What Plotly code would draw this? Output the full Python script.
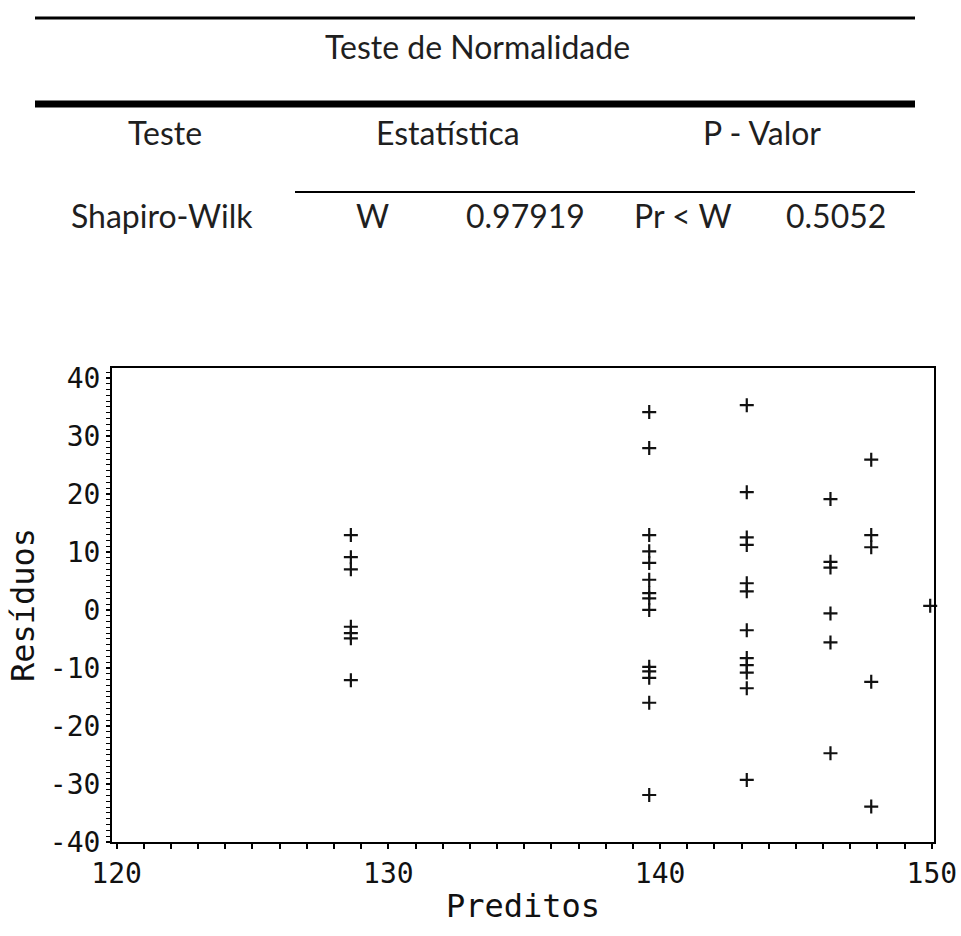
import plotly.graph_objects as go

# ---------------- data ----------------
pred_values = [128.62, 139.6, 143.19, 146.27, 147.77, 149.94]
residuals_g1 = [12.9, 9.1, 7.0, -2.9, -4.0, -4.9, -12.1]
residuals_g2 = [34.1, 27.9, 12.9, 10.1, 8.1, 5.2, 2.9, 2.0, 0.0, -9.8, -10.6, -11.7, -16.0, -31.9]
residuals_g3 = [35.3, 20.3, 12.5, 11.2, 4.6, 3.2, -3.5, -8.3, -9.5, -10.8, -13.5, -29.3]
residuals_g4 = [19.1, 8.3, 7.3, -0.6, -5.6, -24.7]
residuals_g5 = [25.9, 12.9, 10.8, -12.4, -33.9]
residuals_g6 = [0.7]
groups = [residuals_g1, residuals_g2, residuals_g3, residuals_g4, residuals_g5, residuals_g6]

x_ticks = [120, 130, 140, 150]
y_ticks = [-40, -30, -20, -10, 0, 10, 20, 30, 40]

table_title = "Teste de Normalidade"
table_header = ["Teste", "Estatística", "P - Valor"]
table_row = ["Shapiro-Wilk", "W", "0.97919", "Pr < W", "0.5052"]

# ---------------- build ----------------
xs, ys = [], []
for p, g in zip(pred_values, groups):
    for r in g:
        xs.append(p)
        ys.append(r)

W, H = 961, 936
L, R, T, B = 112, 934, 368, 842


def pxx(x):
    return (x - L) / (R - L)


def pyy(y):
    return (B - y) / (B - T)


mono = "DejaVu Sans Mono, Liberation Mono, monospace"
axis_font = dict(family=mono, size=28, color="#111")
title_font = dict(family=mono, size=32, color="#111")
table_font = dict(family="Lato, Open Sans, sans-serif", size=32, color="#1f1f1f")

fig = go.Figure()
fig.add_trace(go.Scatter(
    x=xs, y=ys, mode="markers",
    marker=dict(symbol="cross-thin-open", size=10, color="#111",
                line=dict(width=2.2, color="#111")),
    showlegend=False, cliponaxis=False,
))

shapes = [
    dict(type="line", xref="paper", yref="paper", x0=pxx(35), x1=pxx(915), y0=pyy(18), y1=pyy(18),
         line=dict(color="black", width=3)),
    dict(type="line", xref="paper", yref="paper", x0=pxx(35), x1=pxx(915), y0=pyy(104), y1=pyy(104),
         line=dict(color="black", width=7)),
    dict(type="line", xref="paper", yref="paper", x0=pxx(295), x1=pxx(915), y0=pyy(192), y1=pyy(192),
         line=dict(color="black", width=2)),
]

annotations = [
    dict(text=table_title, x=pxx(477), y=pyy(46), xref="paper", yref="paper", showarrow=False,
         font=table_font, xanchor="center", yanchor="middle"),
]
for t, xc in zip(table_header, [165, 448, 762]):
    annotations.append(dict(text=t, x=pxx(xc), y=pyy(133), xref="paper", yref="paper", showarrow=False,
                            font=table_font, xanchor="center", yanchor="middle"))
for t, xc in zip(table_row, [162, 372, 525, 683, 836]):
    annotations.append(dict(text=t, x=pxx(xc), y=pyy(216), xref="paper", yref="paper", showarrow=False,
                            font=table_font, xanchor="center", yanchor="middle"))

fig.update_layout(
    width=W, height=H, autosize=False,
    margin=dict(l=L, r=W - R, t=T, b=H - B, pad=0, autoexpand=False),
    paper_bgcolor="white", plot_bgcolor="white",
    shapes=shapes, annotations=annotations,
    xaxis=dict(
        range=[119.83, 150.08], tickvals=x_ticks, ticktext=[str(v) for v in x_ticks],
        showline=True, linewidth=2, linecolor="black", mirror=True,
        ticks="outside", ticklen=5, tickwidth=1.5, tickcolor="black",
        minor=dict(dtick=1, tick0=120, ticks="outside", ticklen=5, tickwidth=1.5, tickcolor="black"),
        showgrid=False, zeroline=False, tickfont=axis_font,
        title=dict(text="Preditos", font=title_font, standoff=6),
    ),
    yaxis=dict(
        range=[-40, 41.7], tickvals=y_ticks, ticktext=[str(v) for v in y_ticks],
        showline=True, linewidth=2, linecolor="black", mirror=True,
        ticks="outside", ticklen=4, tickwidth=1.5, tickcolor="black",
        minor=dict(dtick=1, tick0=0, ticks="outside", ticklen=4, tickwidth=1, tickcolor="black"),
        showgrid=False, zeroline=False, tickfont=axis_font,
        title=dict(text="Resíduos", font=title_font, standoff=6),
    ),
)

fig.write_html("out.html", config={"responsive": False})
